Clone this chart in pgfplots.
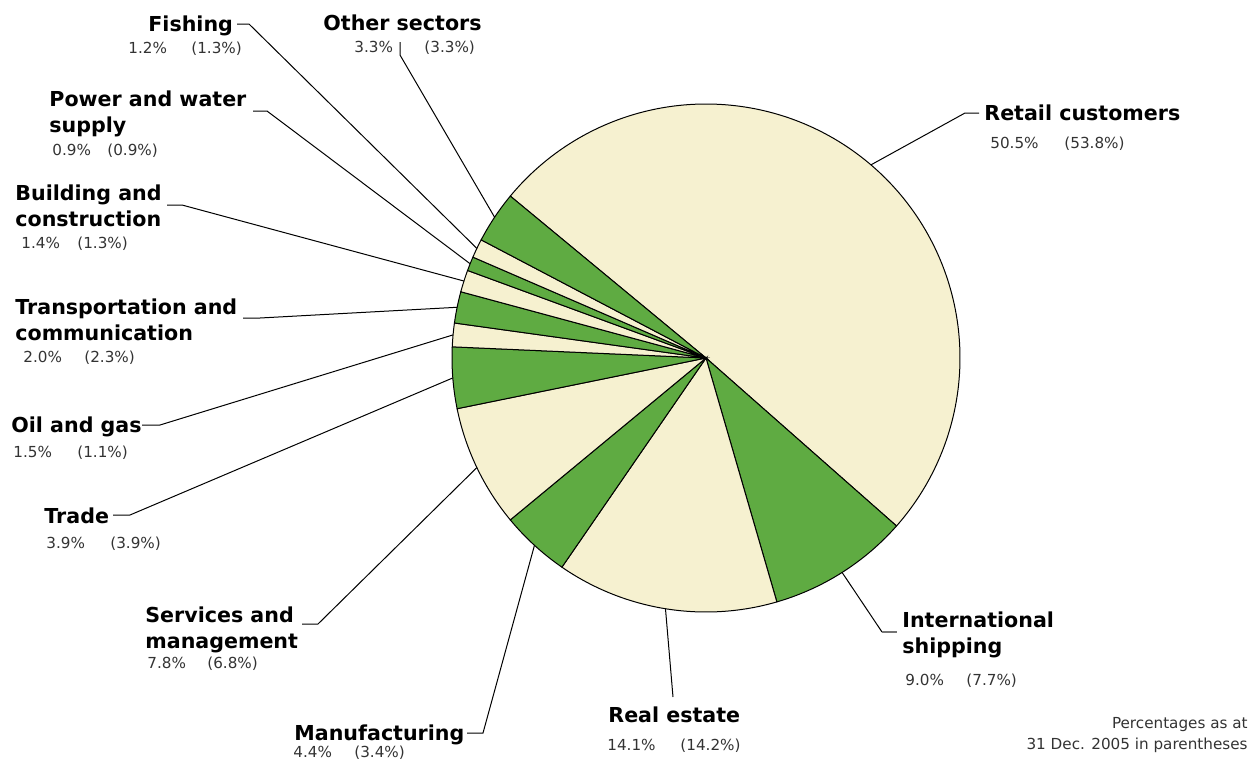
\documentclass[border=0pt]{standalone}
\usepackage{fontspec}
\setmainfont{DejaVu Sans}
\usepackage{pgfplots}
\usepackage{pgfplotstable}
\pgfplotsset{compat=1.18}
\definecolor{grn}{RGB}{95,171,66}
\definecolor{crm}{RGB}{246,241,208}
\definecolor{pct}{RGB}{51,51,51}

% loan shares by sector, clockwise from the top-left boundary
\pgfplotstableread{
name value fillc
retail 50.5 crm
intl 9.0 grn
real 14.1 crm
manu 4.4 grn
serv 7.8 crm
trade 3.9 grn
oil 1.5 crm
trans 2.0 grn
build 1.4 crm
power 0.9 grn
fish 1.2 crm
other 3.3 grn
}\sectors

\begin{document}
\begin{tikzpicture}
\coordinate (C) at (353pt,-179pt);
\begin{axis}[at={(C)}, anchor=center, scale only axis,
    width=254pt, height=254pt,
    xmin=-1, xmax=1, ymin=-1, ymax=1,
    hide axis, clip=false]
\def\cum{140.4}
\pgfplotsforeachungrouped \i in {0,...,11}{%
  \pgfplotstablegetelem{\i}{value}\of\sectors \let\val\pgfplotsretval
  \pgfplotstablegetelem{\i}{fillc}\of\sectors \let\fc\pgfplotsretval
  \pgfmathsetmacro\a{\cum}
  \pgfmathsetmacro\b{\cum-3.6*\val}
  \pgfmathsetmacro\m{(\a+\b)/2}
  \pgfmathsetmacro\mx{cos(\m)}
  \pgfmathsetmacro\my{sin(\m)}
  \pgfmathtruncatemacro\ns{max(4,2*3.6*\val)}
  \edef\tmp{\noexpand\addplot[draw=black, line width=0.5pt, fill=\fc,
      domain=\b:\a, samples=\ns] ({cos(x)},{sin(x)}) -- (axis cs:0,0) -- cycle;
    \noexpand\coordinate (L\i) at (axis cs:\mx,\my);}%
  \tmp
  \global\let\cum\b
}
\end{axis}

\begin{scope}[x=0.5pt, y=-0.5pt]
\tikzset{
  lbl/.style={anchor=base west, inner sep=0pt, font=\fontsize{10.3pt}{12pt}\selectfont\bfseries},
  pc/.style={anchor=base west, inner sep=0pt, text=pct, font=\fontsize{7.6pt}{9pt}\selectfont},
  ld/.style={draw=black, line width=0.5pt}}

% leaders
\draw[ld] (L0) -- (965,113) -- (979,113);
\draw[ld] (L1) -- (882,632);
\draw[draw=black!55, line width=0.6pt] (882,632) -- (897,632);
\draw[ld] (L2) -- (673,697);
\draw[ld] (L3) -- (483,733) -- (467,733);
\draw[ld] (L4) -- (318,624) -- (302,624);
\draw[ld] (L5) -- (130,515) -- (113,515);
\draw[ld] (L6) -- (160,425) -- (142,425);
\draw[ld] (L7) -- (260,318) -- (243,318);
\draw[ld] (L8) -- (182,205) -- (167,205);
\draw[ld] (L9) -- (267,111) -- (253,111);
\draw[ld] (L10) -- (249,24) -- (237,24);
\draw[ld] (L11) -- (400,55) -- (400,42);

% labels
\node[lbl] at (984,120.5) {Retail customers};
\node[pc] at (990,148.5) {50.5\%};
\node[pc] at (1064,148.5) {(53.8\%)};

\node[lbl] at (902,627.5) {International};
\node[lbl] at (902,653.5) {shipping};
\node[pc] at (905,685.5) {9.0\%};
\node[pc] at (966,685.5) {(7.7\%)};

\node[lbl] at (608,722.5) {Real estate};
\node[pc] at (607,750.5) {14.1\%};
\node[pc] at (680,750.5) {(14.2\%)};

\node[lbl] at (294,740.5) {Manufacturing};
\node[pc] at (293,757) {4.4\%};
\node[pc] at (354,757) {(3.4\%)};

\node[lbl] at (145,622.5) {Services and};
\node[lbl] at (145,648.5) {management};
\node[pc] at (147,668.5) {7.8\%};
\node[pc] at (207,668.5) {(6.8\%)};

\node[lbl] at (44,523.5) {Trade};
\node[pc] at (46,548) {3.9\%};
\node[pc] at (110,548) {(3.9\%)};

\node[lbl] at (11,432.5) {Oil and gas};
\node[pc] at (13,457.5) {1.5\%};
\node[pc] at (77,457.5) {(1.1\%)};

\node[lbl] at (15,314) {Transportation and};
\node[lbl] at (15,340) {communication};
\node[pc] at (23,362.5) {2.0\%};
\node[pc] at (84,362.5) {(2.3\%)};

\node[lbl] at (15,200.5) {Building and};
\node[lbl] at (15,226.5) {construction};
\node[pc] at (21,248.5) {1.4\%};
\node[pc] at (77,248.5) {(1.3\%)};

\node[lbl] at (49,106.5) {Power and water};
\node[lbl] at (49,132.5) {supply};
\node[pc] at (52,155.5) {0.9\%};
\node[pc] at (107,155.5) {(0.9\%)};

\node[lbl] at (148,31.5) {Fishing};
\node[pc] at (128,53.5) {1.2\%};
\node[pc] at (191,53.5) {(1.3\%)};

\node[lbl] at (323,30.5) {Other sectors};
\node[pc] at (354,52.5) {3.3\%};
\node[pc] at (424,52.5) {(3.3\%)};

\node[pc, anchor=base east] at (1248,728.5) {Percentages as at};
\node[pc, anchor=base east] at (1248,749.5) {31 Dec. 2005 in parentheses};
\end{scope}

\pgfresetboundingbox
\path[use as bounding box] (0,0) rectangle (626.5pt,-380pt);
\end{tikzpicture}
\end{document}
